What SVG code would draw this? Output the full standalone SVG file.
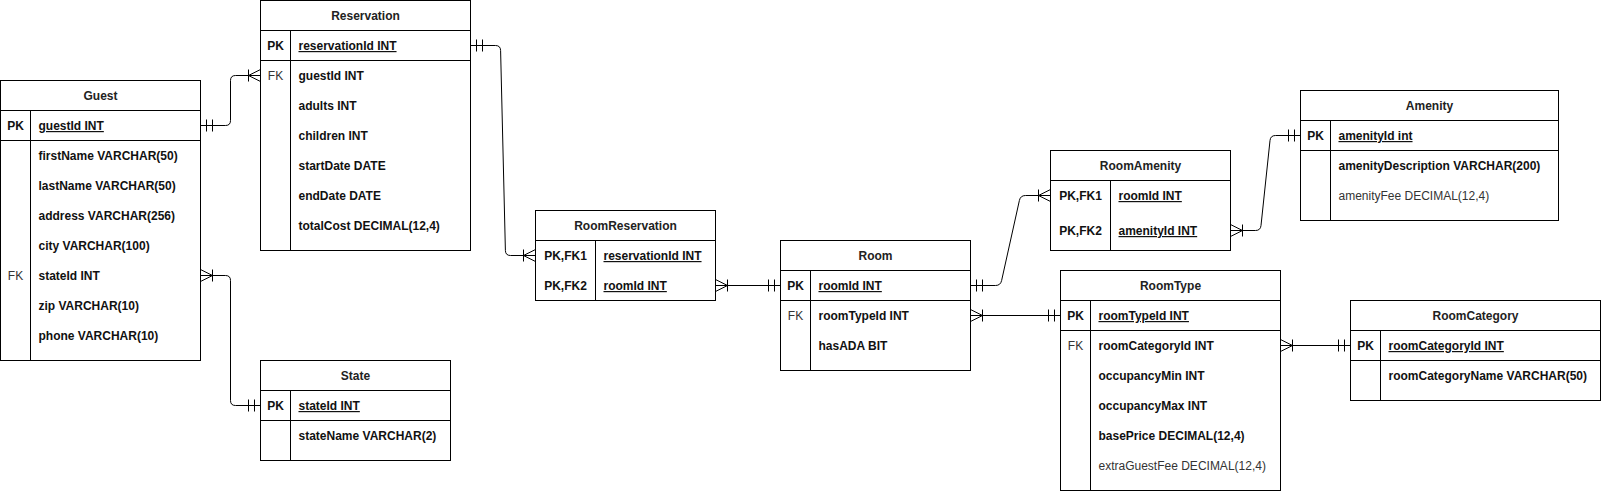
<svg xmlns="http://www.w3.org/2000/svg" width="1601" height="491" viewBox="0 0 1601 491">
<style>
.box{fill:#fff;stroke:#000;stroke-width:1}
.ln{stroke:#000;stroke-width:1;fill:none}
text{font-family:"Liberation Sans",Arial,Helvetica,sans-serif;font-size:12px;fill:#111;font-weight:bold}
.h{text-anchor:middle;fill:#222}
.k{text-anchor:middle}
.f{font-weight:normal;fill:#333}
.u{text-decoration:underline;text-decoration-color:#888}
.g{font-weight:normal;fill:#333}
.mk{stroke:#000;stroke-width:1;fill:none}
#connectors path{stroke:#000;stroke-width:1;fill:none}
</style>
<defs>
<marker id="one" markerUnits="userSpaceOnUse" markerWidth="20" markerHeight="20" refX="0" refY="0" orient="auto-start-reverse" overflow="visible"><path class="mk" d="M-6,-6V6M-12,-6V6"/></marker>
<marker id="many" markerUnits="userSpaceOnUse" markerWidth="20" markerHeight="20" refX="0" refY="0" orient="auto-start-reverse" overflow="visible"><path class="mk" d="M0,-6L-12,0L0,6M-12,-6V6"/></marker>
</defs>

<g id="connectors">
<path d="M200.5,125.5H225.5Q230.5,125.5 230.5,120.5V80.5Q230.5,75.5 235.5,75.5H260.5" marker-start="url(#one)" marker-end="url(#many)"/>
<path d="M200.5,275.5H225.5Q230.5,275.5 230.5,280.5V400.5Q230.5,405.5 235.5,405.5H260.5" marker-start="url(#many)" marker-end="url(#one)"/>
<path d="M470.5,45.5H495.5Q500.5,45.5 500.6,50.5L505.4,250.5Q505.5,255.5 510.5,255.5H535.5" marker-start="url(#one)" marker-end="url(#many)"/>
<path d="M715.5,285.5H780.5" marker-start="url(#many)" marker-end="url(#one)"/>
<path d="M970.5,285.5H995.5Q1000.5,285.5 1001.6,280.6L1019.4,200.4Q1020.5,195.5 1025.5,195.5H1050.5" marker-start="url(#one)" marker-end="url(#many)"/>
<path d="M1230.5,230.5H1255.5Q1260.5,230.5 1261,225.5L1270,140.5Q1270.5,135.5 1275.5,135.5H1300.5" marker-start="url(#many)" marker-end="url(#one)"/>
<path d="M970.5,315.5H1060.5" marker-start="url(#many)" marker-end="url(#one)"/>
<path d="M1280.5,345.5H1350.5" marker-start="url(#many)" marker-end="url(#one)"/>
</g>

<g id="Guest">
<rect class="box" x="0.5" y="80.5" width="200" height="280"/>
<path class="ln" d="M0.5,110.5H200.5M0.5,140.5H200.5M30.5,110.5V360.5"/>
<text class="h" x="100.5" y="100">Guest</text>
<text class="k" x="15.5" y="130">PK</text>
<text class="u" x="38.5" y="130">guestId INT</text>
<text x="38.5" y="160">firstName VARCHAR(50)</text>
<text x="38.5" y="190">lastName VARCHAR(50)</text>
<text x="38.5" y="220">address VARCHAR(256)</text>
<text x="38.5" y="250">city VARCHAR(100)</text>
<text class="k f" x="15.5" y="280">FK</text>
<text x="38.5" y="280">stateId INT</text>
<text x="38.5" y="310">zip VARCHAR(10)</text>
<text x="38.5" y="340">phone VARCHAR(10)</text>
</g>

<g id="Reservation">
<rect class="box" x="260.5" y="0.5" width="210" height="250"/>
<path class="ln" d="M260.5,30.5H470.5M260.5,60.5H470.5M290.5,30.5V250.5"/>
<text class="h" x="365.5" y="20">Reservation</text>
<text class="k" x="275.5" y="50">PK</text>
<text class="u" x="298.5" y="50">reservationId INT</text>
<text class="k f" x="275.5" y="80">FK</text>
<text x="298.5" y="80">guestId INT</text>
<text x="298.5" y="110">adults INT</text>
<text x="298.5" y="140">children INT</text>
<text x="298.5" y="170">startDate DATE</text>
<text x="298.5" y="200">endDate DATE</text>
<text x="298.5" y="230">totalCost DECIMAL(12,4)</text>
</g>

<g id="State">
<rect class="box" x="260.5" y="360.5" width="190" height="100"/>
<path class="ln" d="M260.5,390.5H450.5M260.5,420.5H450.5M290.5,390.5V460.5"/>
<text class="h" x="355.5" y="380">State</text>
<text class="k" x="275.5" y="410">PK</text>
<text class="u" x="298.5" y="410">stateId INT</text>
<text x="298.5" y="440">stateName VARCHAR(2)</text>
</g>

<g id="RoomReservation">
<rect class="box" x="535.5" y="210.5" width="180" height="90"/>
<path class="ln" d="M535.5,240.5H715.5M595.5,240.5V300.5"/>
<text class="h" x="625.5" y="230">RoomReservation</text>
<text class="k" x="565.5" y="260">PK,FK1</text>
<text class="u" x="603.5" y="260">reservationId INT</text>
<text class="k" x="565.5" y="290">PK,FK2</text>
<text class="u" x="603.5" y="290">roomId INT</text>
</g>

<g id="Room">
<rect class="box" x="780.5" y="240.5" width="190" height="130"/>
<path class="ln" d="M780.5,270.5H970.5M780.5,300.5H970.5M810.5,270.5V370.5"/>
<text class="h" x="875.5" y="260">Room</text>
<text class="k" x="795.5" y="290">PK</text>
<text class="u" x="818.5" y="290">roomId INT</text>
<text class="k f" x="795.5" y="320">FK</text>
<text x="818.5" y="320">roomTypeId INT</text>
<text x="818.5" y="350">hasADA BIT</text>
</g>

<g id="RoomAmenity">
<rect class="box" x="1050.5" y="150.5" width="180" height="100"/>
<path class="ln" d="M1050.5,180.5H1230.5M1110.5,180.5V250.5"/>
<text class="h" x="1140.5" y="170">RoomAmenity</text>
<text class="k" x="1080.5" y="200">PK,FK1</text>
<text class="u" x="1118.5" y="200">roomId INT</text>
<text class="k" x="1080.5" y="235">PK,FK2</text>
<text class="u" x="1118.5" y="235">amenityId INT</text>
</g>

<g id="Amenity">
<rect class="box" x="1300.5" y="90.5" width="258" height="130"/>
<path class="ln" d="M1300.5,120.5H1558.5M1300.5,150.5H1558.5M1330.5,120.5V220.5"/>
<text class="h" x="1429.5" y="110">Amenity</text>
<text class="k" x="1315.5" y="140">PK</text>
<text class="u" x="1338.5" y="140">amenityId int</text>
<text x="1338.5" y="170">amenityDescription VARCHAR(200)</text>
<text class="g" x="1338.5" y="200">amenityFee DECIMAL(12,4)</text>
</g>

<g id="RoomType">
<rect class="box" x="1060.5" y="270.5" width="220" height="220"/>
<path class="ln" d="M1060.5,300.5H1280.5M1060.5,330.5H1280.5M1090.5,300.5V490.5"/>
<text class="h" x="1170.5" y="290">RoomType</text>
<text class="k" x="1075.5" y="320">PK</text>
<text class="u" x="1098.5" y="320">roomTypeId INT</text>
<text class="k f" x="1075.5" y="350">FK</text>
<text x="1098.5" y="350">roomCategoryId INT</text>
<text x="1098.5" y="380">occupancyMin INT</text>
<text x="1098.5" y="410">occupancyMax INT</text>
<text x="1098.5" y="440">basePrice DECIMAL(12,4)</text>
<text class="g" x="1098.5" y="470">extraGuestFee DECIMAL(12,4)</text>
</g>

<g id="RoomCategory">
<rect class="box" x="1350.5" y="300.5" width="250" height="100"/>
<path class="ln" d="M1350.5,330.5H1600.5M1350.5,360.5H1600.5M1380.5,330.5V400.5"/>
<text class="h" x="1475.5" y="320">RoomCategory</text>
<text class="k" x="1365.5" y="350">PK</text>
<text class="u" x="1388.5" y="350">roomCategoryId INT</text>
<text x="1388.5" y="380">roomCategoryName VARCHAR(50)</text>
</g>
</svg>
